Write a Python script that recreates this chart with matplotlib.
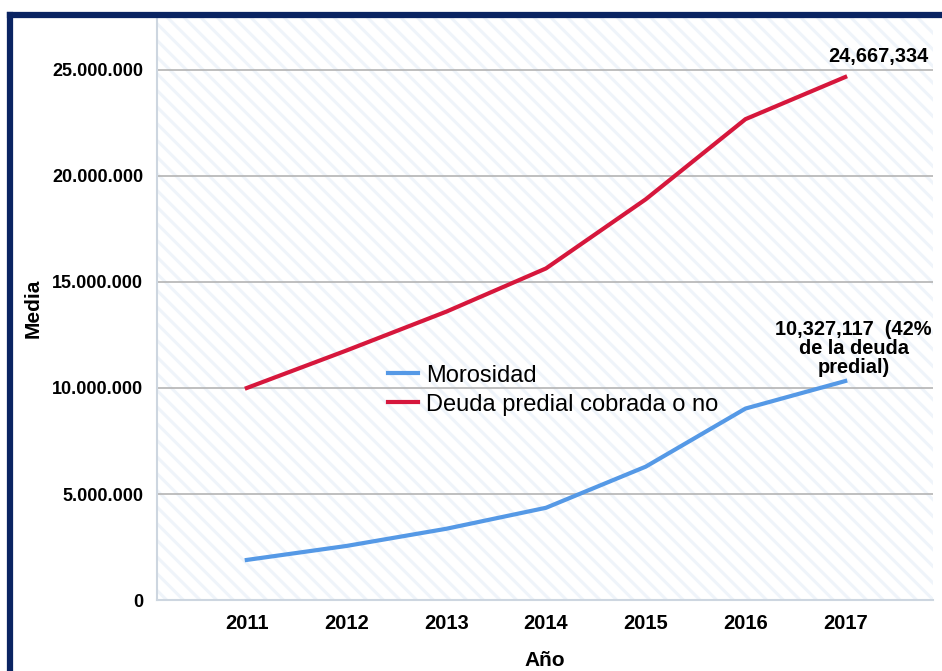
import numpy as np
import matplotlib.pyplot as plt
from matplotlib.patches import Rectangle
from matplotlib.lines import Line2D

years = [2011, 2012, 2013, 2014, 2015, 2016, 2017]
morosidad = [1.89e6, 2.55e6, 3.36e6, 4.35e6, 6.29e6, 9.03e6, 10327117]
deuda = [10.0e6, 11.77e6, 13.6e6, 15.64e6, 18.9e6, 22.68e6, 24667334]
yticks = [0, 5e6, 10e6, 15e6, 20e6, 25e6]
ytick_labels = ['0', '5.000.000', '10.000.000', '15.000.000', '20.000.000', '25.000.000']

plt.rcParams['font.family'] = ['Liberation Sans', 'DejaVu Sans']
plt.rcParams['hatch.linewidth'] = 2.2

fig = plt.figure(figsize=(9.42, 6.71), dpi=100)
ax = fig.add_axes([0.1667, 0.1058, 0.8237, 0.8689])

# light diagonal stripes in the plot area
ax.add_patch(Rectangle((0, 0), 1, 1, transform=ax.transAxes, facecolor='white',
                       edgecolor='#eff4fa', hatch='\\\\', linewidth=0, zorder=0))

for y in yticks[1:]:
    ax.axhline(y, color='#b4b4b4', linewidth=1.2, zorder=1)

ax.plot(years, morosidad, color='#5599e6', linewidth=3, label='Morosidad', zorder=3)
ax.plot(years, deuda, color='#d6173c', linewidth=3, label='Deuda predial cobrada o no', zorder=3)

ax.set_xlim(2010.1, 2017.88)
ax.set_ylim(0, 27.5e6)
ax.set_xticks(years)
ax.set_xticklabels([str(y) for y in years], fontsize=14.5, fontweight='bold')
ax.set_yticks(yticks)
ax.set_yticklabels(ytick_labels, fontsize=13, fontweight='bold')
ax.tick_params(length=0, pad=10)
for s in ['top', 'right']:
    ax.spines[s].set_visible(False)
for s in ['left', 'bottom']:
    ax.spines[s].set_color('#cdd6e0')
    ax.spines[s].set_linewidth(1.5)

ax.set_ylabel('Media', fontsize=15, fontweight='bold', labelpad=7)
ax.set_xlabel('Año', fontsize=15, fontweight='bold', labelpad=13)

ax.annotate('24,667,334', (years[-1], deuda[-1]), xytext=(24, 8),
            textcoords='offset points', ha='center', va='bottom',
            fontsize=14.4, fontweight='bold')
ax.annotate('10,327,117  (42%\nde la deuda\npredial)', (years[-1], morosidad[-1]),
            xytext=(6, 3), textcoords='offset points', ha='center', va='bottom',
            fontsize=14.4, fontweight='bold', linespacing=0.98)

ax.legend(loc='upper left', bbox_to_anchor=(0.286, 0.42), frameon=False,
          fontsize=17, handlelength=1.25, handletextpad=0.35, labelspacing=0.3,
          borderaxespad=0)

# navy frame on the top and left edges
fig.add_artist(Line2D([0.011, 1.0], [0.978, 0.978], color='#0a2462', linewidth=4.5,
                      transform=fig.transFigure))
fig.add_artist(Line2D([0.011, 0.011], [0.0, 0.978], color='#0a2462', linewidth=4.5,
                      transform=fig.transFigure, solid_capstyle='projecting'))

fig.savefig('out.png', dpi=100)
